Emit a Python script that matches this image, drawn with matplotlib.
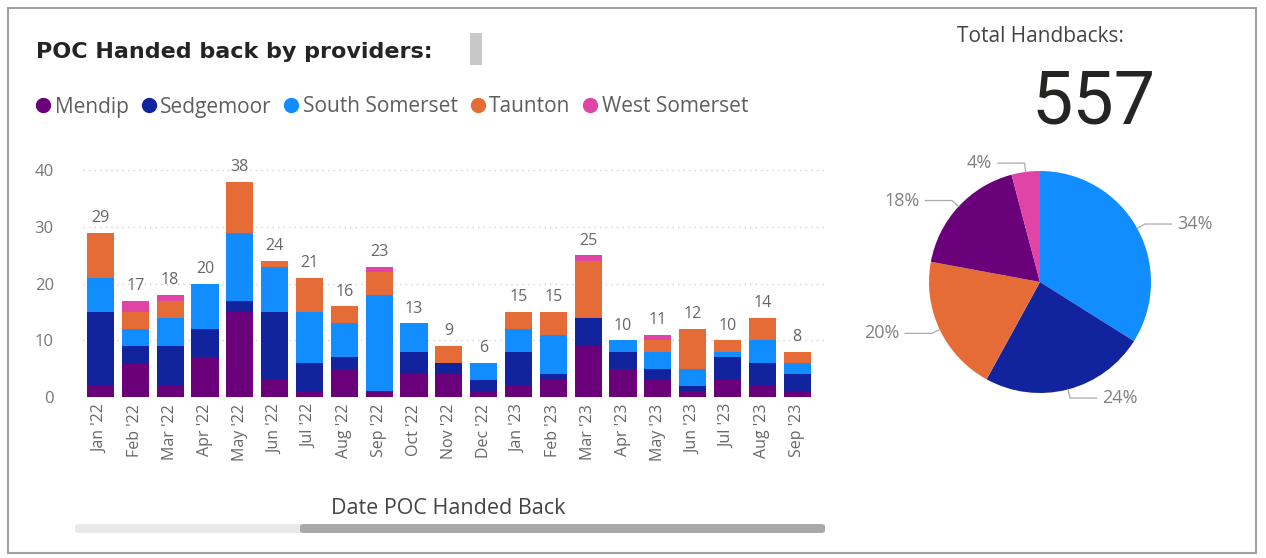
import matplotlib
matplotlib.use("Agg")
import matplotlib.pyplot as plt
from matplotlib.lines import Line2D
from matplotlib.patches import Rectangle, FancyBboxPatch
import numpy as np

plt.rcParams['font.family'] = ['Open Sans', 'DejaVu Sans']

months = ["Jan '22", "Feb '22", "Mar '22", "Apr '22", "May '22", "Jun '22", "Jul '22",
          "Aug '22", "Sep '22", "Oct '22", "Nov '22", "Dec '22", "Jan '23", "Feb '23",
          "Mar '23", "Apr '23", "May '23", "Jun '23", "Jul '23", "Aug '23", "Sep '23"]
providers = ["Mendip", "Sedgemoor", "South Somerset", "Taunton", "West Somerset"]
colors = ["#6B007B", "#12239E", "#118DFF", "#E66C37", "#E044A7"]

mendip         = [2, 6, 2, 7, 15, 3, 1, 5, 1, 4, 4, 1, 2, 3, 9, 5, 3, 1, 3, 2, 1]
sedgemoor      = [13, 3, 7, 5, 2, 12, 5, 2, 0, 4, 2, 2, 6, 1, 5, 3, 2, 1, 4, 4, 3]
south_somerset = [6, 3, 5, 8, 12, 8, 9, 6, 17, 5, 0, 3, 4, 7, 0, 2, 3, 3, 1, 4, 2]
taunton        = [8, 3, 3, 0, 9, 1, 6, 3, 4, 0, 3, 0, 3, 4, 10, 0, 2, 7, 2, 4, 2]
west_somerset  = [0, 2, 1, 0, 0, 0, 0, 0, 1, 0, 0, 0, 0, 0, 1, 0, 1, 0, 0, 0, 0]

# all-time totals per provider (pie)
pie_order  = ["South Somerset", "Sedgemoor", "Taunton", "Mendip", "West Somerset"]
pie_values = [189, 134, 111, 100, 23]
total_handbacks = 557

W, H = 1266, 558
fig = plt.figure(figsize=(W / 100, H / 100), dpi=100)
fig.patch.set_facecolor("white")

def fx(px):
    return px / W

def fy(py):
    return 1 - py / H

# outer frame
fig.patches.append(Rectangle((fx(8), fy(553)), fx(1248), (553 - 8) / H, transform=fig.transFigure,
                             fill=False, edgecolor="#a0a0a0", linewidth=1.5))

# ---- stacked column chart ----
ax = fig.add_axes([fx(83), fy(397), fx(825 - 83), (397 - 159) / H])
series = [mendip, sedgemoor, south_somerset, taunton, west_somerset]
x = np.arange(len(months))
bottom = np.zeros(len(months))
for name, vals, col in zip(providers, series, colors):
    ax.bar(x, vals, bottom=bottom, width=0.78, color=col, label=name, zorder=3)
    bottom += np.array(vals)

for xi, tot in zip(x, bottom):
    ax.text(xi, tot + 1.2, f"{int(tot)}", ha="center", va="bottom", fontsize=11.5, color="#666666")

ax.set_xlim(-0.5, 20.8)
ax.set_ylim(0, 42)
ax.set_yticks([0, 10, 20, 30, 40])
ax.set_xticks(x)
ax.set_xticklabels(months, rotation=90, fontsize=11.5, color="#666666")
ax.tick_params(axis="y", length=0, pad=21, labelsize=12, labelcolor="#777777")
ax.tick_params(axis="x", length=0, pad=5)
for s in ax.spines.values():
    s.set_visible(False)
for v in [10, 20, 30, 40]:
    ax.axhline(v, color="#d0d0d0", linestyle=(0, (1, 3)), linewidth=1, zorder=0)

fig.text(fx(36), fy(52), "POC Handed back by providers:", fontsize=16, fontweight="bold",
         color="#252423", ha="left", va="center", family=["DejaVu Sans"])
fig.patches.append(Rectangle((fx(470), fy(65)), fx(12), 32 / H, transform=fig.transFigure,
                             facecolor="#c8c8c8", edgecolor="none"))

handles = [Line2D([], [], marker="o", linestyle="none", markersize=10, color=c) for c in colors]
fig.legend(handles, providers, loc="center left", bbox_to_anchor=(fx(33), fy(107)), ncol=5,
           frameon=False, borderpad=0, borderaxespad=0, handletextpad=0.05, columnspacing=0.45,
           handlelength=1.0, prop={"size": 15}, labelcolor="#605e5c")

fig.text(fx(448), fy(508), "Date POC Handed Back", fontsize=15.5, color="#444444",
         ha="center", va="center")

# scrollbar
fig.patches.append(FancyBboxPatch((fx(75), fy(533)), fx(750), 9 / H, transform=fig.transFigure,
                                  boxstyle="round,pad=0,rounding_size=0.004",
                                  facecolor="#e9e9e9", edgecolor="none"))
fig.patches.append(FancyBboxPatch((fx(300), fy(533)), fx(525), 9 / H, transform=fig.transFigure,
                                  boxstyle="round,pad=0,rounding_size=0.004",
                                  facecolor="#a9a9a9", edgecolor="none"))

# ---- total card and pie ----
fig.text(fx(1040), fy(37), "Total Handbacks:", fontsize=15, color="#444444", ha="center", va="center")
fig.text(fx(1094), fy(103), f"{total_handbacks}", fontsize=53, color="#252423",
         family=["Roboto", "DejaVu Sans"], ha="center", va="center")

cx, cy, r = 1040, 282, 111
span = 1.8
pax = fig.add_axes([fx(cx - r * span), fy(cy + r * span), fx(2 * r * span), 2 * r * span / H])
pie_colors = [colors[providers.index(p)] for p in pie_order]
wedges, _ = pax.pie(pie_values, colors=pie_colors, startangle=90, counterclock=False,
                    radius=1, wedgeprops={"linewidth": 0})
pax.set_xlim(-span, span)
pax.set_ylim(-span, span)
pax.set_aspect("equal")
pax.axis("off")

for w, v in zip(wedges, pie_values):
    mid = np.deg2rad((w.theta1 + w.theta2) / 2)
    px, py = np.cos(mid), np.sin(mid)
    ex, ey = 1.08 * px, 1.08 * py
    side = 1 if px >= 0 else -1
    hx = ex + side * 0.24
    pax.plot([1.0 * px, ex, hx], [1.0 * py, ey, ey], color="#aaaaaa", linewidth=0.9, clip_on=False)
    pax.text(hx + side * 0.05, ey, f"{round(100 * v / total_handbacks)}%", fontsize=13,
             color="#808080", ha="left" if side > 0 else "right", va="center")

fig.savefig("out.png", dpi=100)
